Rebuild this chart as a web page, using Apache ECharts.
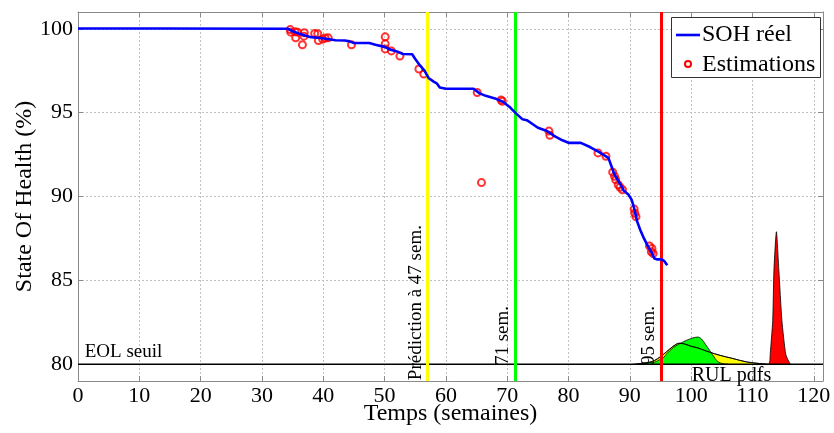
<!DOCTYPE html>
<html><head><meta charset="utf-8">
<script src="https://cdn.jsdelivr.net/npm/echarts@6/dist/echarts.min.js"></script>
<style>html,body{margin:0;padding:0;background:#fff}#c{width:834px;height:433px}</style>
</head><body><div id="c"></div>
<script>
// ---- data ----
const sohX = [0, 13, 13.2, 34.3, 35, 36, 37, 38, 39.5, 41, 42, 43.5, 44.3, 45, 47.5, 48.5, 50, 51, 52, 53, 54.5, 55, 55.8, 56.5, 57.2, 57.6, 58, 58.5, 59, 60, 64.5, 65.5, 66.5, 68, 69.3, 70.5, 71.3, 72.5, 73.2, 74, 75, 76.5, 77.5, 79, 80, 82, 83.5, 85, 86.5, 87, 87.5, 88, 88.5, 89, 89.8, 90.3, 90.7, 91.2, 91.7, 92.3, 93, 93.5, 94, 94.5, 95.2, 95.6, 96.1];
const sohY = [100.02, 100.02, 100.0, 100.0, 99.85, 99.72, 99.6, 99.5, 99.45, 99.38, 99.32, 99.3, 99.25, 99.15, 99.15, 99.05, 98.92, 98.75, 98.65, 98.5, 98.48, 98.2, 97.8, 97.5, 97.05, 96.95, 96.85, 96.75, 96.5, 96.42, 96.42, 96.15, 96.0, 95.85, 95.65, 95.3, 95.0, 94.6, 94.55, 94.35, 94.1, 93.9, 93.65, 93.35, 93.2, 93.2, 92.95, 92.65, 92.3, 91.8, 91.3, 91.0, 90.7, 90.35, 90.1, 89.8, 89.3, 88.5, 88.0, 87.5, 87.0, 86.7, 86.3, 86.25, 86.25, 86.15, 85.9];

const estX = [34.6, 34.7, 35.4, 35.5, 35.8, 36.6, 36.9, 36.85, 38.6, 39.1, 39.2, 39.9, 40.3, 40.8, 44.6, 50.1, 50.1, 50.1, 51.1, 52.5, 55.6, 56.4, 65.1, 65.8, 69.0, 69.2, 76.8, 76.95, 84.8, 86.1, 87.2, 87.5, 87.7, 88.1, 88.4, 88.8, 90.7, 90.8, 91.0, 93.2, 93.6, 93.5, 93.8];
const estY = [99.95, 99.8, 99.82, 99.46, 99.8, 99.05, 99.76, 99.56, 99.72, 99.7, 99.3, 99.38, 99.45, 99.46, 99.04, 99.52, 99.1, 98.8, 98.68, 98.37, 97.6, 97.3, 96.2, 90.83, 95.75, 95.68, 93.9, 93.65, 92.6, 92.4, 91.45, 91.2, 91.0, 90.7, 90.55, 90.4, 89.25, 89.0, 88.8, 87.05, 86.9, 86.7, 86.6];

const pdfYellowX = [91, 92, 93, 94, 95, 96, 97, 98, 99, 100, 101, 102, 103, 104.7, 106.8, 109, 111.2, 112.5];
const pdfYellowY = [80.0, 80.04, 80.1, 80.22, 80.45, 80.75, 81.05, 81.25, 81.2, 81.07, 80.98, 80.85, 80.72, 80.53, 80.34, 80.14, 80.04, 80.0];
const pdfGreenX = [90.5, 91.5, 92.7, 94, 95, 95.5, 96, 97.1, 98, 99.2, 100.3, 101.1, 101.7, 102.4, 103, 103.9, 104.4, 105.2, 106];
const pdfGreenY = [80.0, 80.03, 80.08, 80.12, 80.3, 80.4, 80.62, 81.0, 81.2, 81.42, 81.57, 81.62, 81.5, 81.15, 80.83, 80.34, 80.14, 80.03, 80.0];
const pdfRedX = [112.5, 112.8, 112.9, 113.3, 113.5, 113.9, 114.3, 114.8, 115.4, 115.8, 116.2];
const pdfRedY = [80.0, 80.1, 80.63, 82.6, 85.6, 87.9, 85.6, 82.6, 80.63, 80.25, 80.0];

const predWeeks = [57, 71.3, 95.2];
const predLabels = ['Prédiction à 47 sem.', '71 sem.', '95 sem.'];
const eolLevel = 80;
const xTicks = [0, 10, 20, 30, 40, 50, 60, 70, 80, 90, 100, 110, 120];
const yTicks = [80, 85, 90, 95, 100];
const legendNames = ['SOH réel', 'Estimations'];

// ---- chart ----
const FONT = "'Liberation Serif','Times New Roman',serif";
const zip = (xs, ys) => xs.map((x, i) => [x, ys[i]]);
const X_MIN = 0, X_MAX = 121.5, Y_MIN = 79, Y_MAX = 101;
const frameColor = '#8a8a8a';
const gridLine = { show: true, lineStyle: { color: '#bfbfbf', type: [2, 2], width: 1 } };
const lineColors = ['#ffff00', '#00ff00', '#ff0000'];

const chart = echarts.init(document.getElementById('c'));

const baseAxis = {
  type: 'value',
  axisLine: { show: true, onZero: false, lineStyle: { color: frameColor, width: 1 } },
  axisTick: { show: true, inside: true, length: 5, lineStyle: { color: frameColor } },
};

const option = {
  animation: false,
  backgroundColor: '#fff',
  grid: { left: 78, right: 11, top: 12, bottom: 52, containLabel: false, outerBoundsMode: 'none' },
  xAxis: [
    Object.assign({}, baseAxis, {
      min: X_MIN, max: X_MAX, interval: 10, position: 'bottom',
      axisLabel: { color: '#000', fontFamily: FONT, fontSize: 22, margin: 4,
        formatter: v => xTicks.includes(v) ? String(v) : '' },
      splitLine: gridLine,
      name: 'Temps (semaines)', nameLocation: 'middle', nameGap: 21, nameMoveOverlap: false,
      nameTextStyle: { color: '#000', fontFamily: FONT, fontSize: 24 }
    }),
    Object.assign({}, baseAxis, {
      min: X_MIN, max: X_MAX, interval: 10, position: 'top',
      axisLabel: { show: false }, splitLine: { show: false }
    })
  ],
  yAxis: [
    Object.assign({}, baseAxis, {
      min: Y_MIN, max: Y_MAX, splitNumber: 5, position: 'left',
      axisLabel: { color: '#000', fontFamily: FONT, fontSize: 22, margin: 5,
        formatter: v => yTicks.includes(v) ? String(v) : '' },
      splitLine: gridLine,
      name: 'State Of Health (%)', nameLocation: 'middle', nameGap: 41, nameMoveOverlap: false,
      nameTextStyle: { color: '#000', fontFamily: FONT, fontSize: 24 }
    }),
    Object.assign({}, baseAxis, {
      min: Y_MIN, max: Y_MAX, splitNumber: 5, position: 'right',
      axisLabel: { show: false }, splitLine: { show: false }
    })
  ],
  series: [
    { name: 'pdfYellow', type: 'line', data: zip(pdfYellowX, pdfYellowY), smooth: 0.3, symbol: 'none',
      lineStyle: { color: '#000', width: 0.8 }, areaStyle: { color: '#ffff00', opacity: 1, origin: eolLevel }, z: 2 },
    { name: 'pdfGreen', type: 'line', data: zip(pdfGreenX, pdfGreenY), smooth: 0.3, symbol: 'none',
      lineStyle: { color: '#000', width: 0.8 }, areaStyle: { color: '#00ff00', opacity: 1, origin: eolLevel }, z: 2 },
    { name: 'pdfYellowOutline', type: 'line', data: zip(pdfYellowX, pdfYellowY), smooth: 0.3, symbol: 'none',
      lineStyle: { color: '#000', width: 0.8 }, z: 2 },
    { name: 'pdfRed', type: 'line', data: zip(pdfRedX, pdfRedY), smooth: 0.2, symbol: 'none',
      lineStyle: { color: '#000', width: 0.8 }, areaStyle: { color: '#ff0000', opacity: 1, origin: eolLevel }, z: 2 },
    { name: 'EOL', type: 'line', data: [[X_MIN, eolLevel], [X_MAX, eolLevel]], symbol: 'none',
      lineStyle: { color: '#000', width: 1.6 }, z: 3,
      markLine: { silent: true, symbol: ['none', 'none'], label: { show: false }, animation: false,
        data: predWeeks.map((w, i) => ({ xAxis: w, lineStyle: { color: lineColors[i], width: 3, type: 'solid' } })) } },
    { name: legendNames[0], type: 'line', data: zip(sohX, sohY), symbol: 'none',
      lineStyle: { color: '#0000ff', width: 2.6 }, z: 5 },
    { name: legendNames[1], type: 'scatter', data: zip(estX, estY), symbol: 'circle', symbolSize: 7,
      itemStyle: { color: 'rgba(255,255,255,0)', borderColor: '#ff0000', borderWidth: 2 }, z: 4 }
  ]
};
chart.setOption(option);

function px(x, y) { return chart.convertToPixel({ seriesIndex: 0 }, [x, y]); }
const labelAnchors = [[56.75, 79.05], [70.8, 79.95], [94.7, 79.95]];
const g = predLabels.map((t, i) => {
  const p = px(labelAnchors[i][0], labelAnchors[i][1]);
  return { type: 'text', x: p[0], y: p[1], rotation: Math.PI / 2, z: 10,
    style: { text: t, font: '19px ' + FONT, fill: '#000', align: 'left', verticalAlign: 'bottom' } };
});
const eolP = px(1.1, 80.15);
g.push({ type: 'text', x: eolP[0], y: eolP[1], z: 10,
  style: { text: 'EOL seuil', font: '19px ' + FONT, fill: '#000', align: 'left', verticalAlign: 'bottom' } });
const rulP = px(100.1, 79.9);
g.push({ type: 'text', x: rulP[0], y: rulP[1], z: 10,
  style: { text: 'RUL pdfs', font: '20px ' + FONT, fill: '#000', align: 'left', verticalAlign: 'top' } });

// legend box (MATLAB style)
g.push({ type: 'rect', z: 20, shape: { x: 671.5, y: 17.5, width: 149, height: 60 },
  style: { fill: '#fff', stroke: '#333', lineWidth: 1 } });
g.push({ type: 'line', z: 21, shape: { x1: 676, y1: 35, x2: 700, y2: 35 },
  style: { stroke: '#0000ff', lineWidth: 2.6 } });
g.push({ type: 'text', z: 21, x: 702, y: 35,
  style: { text: legendNames[0], font: '24px ' + FONT, fill: '#000', align: 'left', verticalAlign: 'middle' } });
g.push({ type: 'circle', z: 21, shape: { cx: 688, cy: 64, r: 3 },
  style: { fill: 'none', stroke: '#ff0000', lineWidth: 2 } });
g.push({ type: 'text', z: 21, x: 702, y: 65,
  style: { text: legendNames[1], font: '24px ' + FONT, fill: '#000', align: 'left', verticalAlign: 'middle' } });
chart.setOption({ graphic: g });
</script>
</body></html>
